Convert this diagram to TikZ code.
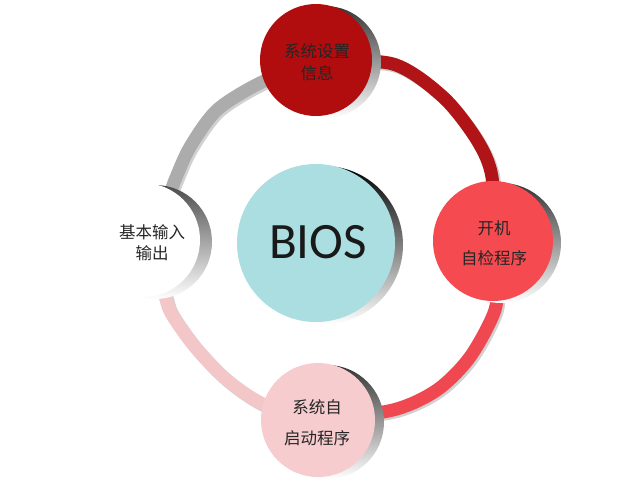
\documentclass[tikz,border=0pt]{standalone}
\usepackage{fontspec}
\newfontfamily\cjk{Noto Sans CJK SC}
\newfontfamily\biosfont{Carlito}
\definecolor{cTop}{RGB}{177,12,14}
\definecolor{cRight}{RGB}{245,75,80}
\definecolor{cBottom}{RGB}{246,204,206}
\definecolor{cBios}{RGB}{170,222,224}
\definecolor{bDark}{RGB}{176,20,22}
\definecolor{bRed}{RGB}{240,72,80}
\definecolor{bPink}{RGB}{243,198,200}
\definecolor{bGray}{RGB}{172,172,172}
\begin{document}
\begin{tikzpicture}[x=1pt,y=-1pt,
  band/.style={line width=13pt},
  bandshadow/.style={line width=13pt, draw=black!40, opacity=.45, transform canvas={shift={(2,2)}}},
  face/.style={circle, inner sep=0pt, minimum size=#1},
  rimshade/.style={top color=black!80, middle color=black!70, bottom color=white},
  lbl/.style={font=\cjk\fontsize{16.5}{#1}\selectfont, text=black!85, align=center, inner sep=0pt}
]
\useasboundingbox[fill=white] (0,0) rectangle (638,488);
\coordinate (pT) at (316,60);
\coordinate (pR) at (493,241);
\coordinate (pB) at (318,420);
\coordinate (pL) at (143,240);
\coordinate (pC) at (316,243);
% ring bands
\draw[bandshadow] plot[smooth] coordinates {(pT) (393,64) (443,97) (477,140) (492,177) (pR)};
\draw[band, draw=bDark] plot[smooth] coordinates {(pT) (393,64) (443,97) (477,140) (492,177) (pR)};
\draw[bandshadow] plot[smooth] coordinates {(pR) (496,275) (495,310) (470,357) (437,390) (393,410) (pB)};
\draw[band, draw=bRed] plot[smooth] coordinates {(pR) (496,275) (495,310) (470,357) (437,390) (393,410) (pB)};
\draw[bandshadow] plot[smooth] coordinates {(pB) (265,405) (227,380) (195,347) (171,313) (163,290) (pL)};
\draw[band, draw=bPink] plot[smooth] coordinates {(pB) (265,405) (227,380) (195,347) (171,313) (163,290) (pL)};
\draw[bandshadow] plot[smooth] coordinates {(pL) (166,203) (175,180) (190,147) (217,110) (260,83) (pT)};
\draw[band, draw=bGray] plot[smooth] coordinates {(pL) (166,203) (175,180) (190,147) (217,110) (260,83) (pT)};
% rims (3D edges)
\shade[rimshade] ([shift={(9,2)}]pT) circle[radius=56pt];
\shade[rimshade] ([shift={(8,2)}]pR) circle[radius=60pt];
\shade[rimshade] ([shift={(9,2)}]pB) circle[radius=57pt];
\shade[top color=black!70, middle color=black!55, bottom color=white] ([shift={(12,2)}]pL) circle[radius=57pt];
\shade[top color=black, middle color=black!85, bottom color=white] ([shift={(8,2)}]pC) circle[radius=79pt];
% faces
\node[face=112pt, fill=cTop] (nTop) at (pT) {};
\node[face=120pt, fill=cRight] (nRight) at (pR) {};
\node[face=114pt, fill=cBottom] (nBottom) at (pB) {};
\node[face=114pt, fill=white] (nLeft) at (pL) {};
\node[face=158pt, fill=cBios] (nBios) at (pC) {};
% labels
\node[lbl=22pt] (tTop) at (317,62) {系统设置\\信息};
\node[lbl=30pt] (tRight) at (494,243) {开机\\自检程序};
\node[lbl=31pt] (tBottom) at (317,423) {系统自\\启动程序};
\node[lbl=21pt] (tLeft) at (152,243) {基本输入\\输出};
\node[font=\biosfont\fontsize{51}{51}\selectfont, text=black!90, inner sep=0pt] (tBios) at (318,242) {BIOS};
\end{tikzpicture}
\end{document}
